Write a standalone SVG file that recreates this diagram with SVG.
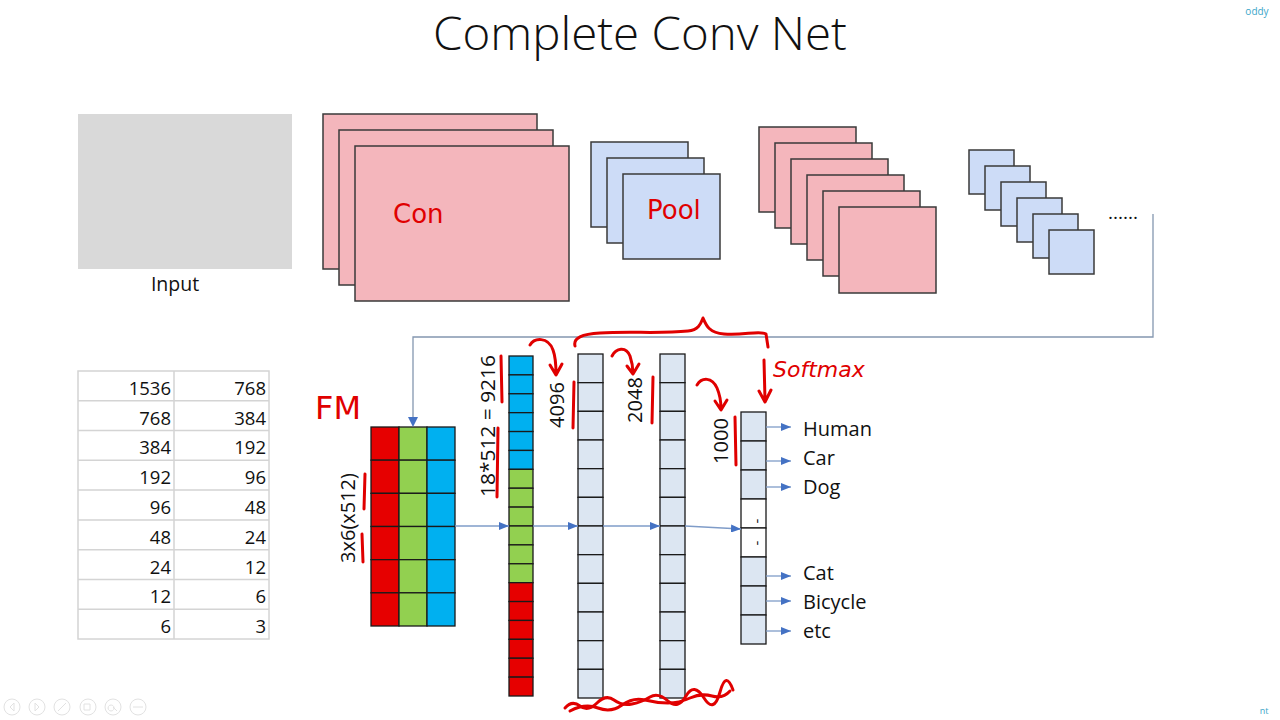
<svg xmlns="http://www.w3.org/2000/svg" width="1280" height="720" viewBox="0 0 1280 720">
<defs>
<marker id="ah" viewBox="0 0 10 8" refX="10" refY="4" markerWidth="10" markerHeight="8" markerUnits="userSpaceOnUse" orient="auto">
<path d="M0,0 L10,4 L0,8 Z" fill="#4472c4"/>
</marker>
<style>
.t{font-family:"Open Sans","Liberation Sans",sans-serif;fill:#111}
.pink{fill:#f4b6bc;stroke:#3a3a3a;stroke-width:1.5}
.blue{fill:#cddcf7;stroke:#3a3a3a;stroke-width:1.5}
.cell{stroke:#1a1a1a;stroke-width:1.3}
.lb{fill:#dce6f2}
.r{fill:#e60000}
.g{fill:#92d050}
.c{fill:#00b0f0}
.w{fill:#ffffff}
.conn{fill:none;stroke:#8497b0;stroke-width:1.3}
.arr{fill:none;stroke:#7f9cc8;stroke-width:1.3;marker-end:url(#ah)}
.grid{stroke:#d4d4d4;stroke-width:1.5;fill:none}
.num{font-family:"Open Sans","Liberation Sans",sans-serif;font-size:18.5px;fill:#111;text-anchor:end}
.ink{fill:none;stroke:#e00000;stroke-width:3;stroke-linecap:round;stroke-linejoin:round}
.hw{font-family:"DejaVu Sans",sans-serif;fill:#e00000}
</style>
</defs>
<rect width="1280" height="720" fill="#ffffff"/>

<text class="t" x="640" y="50" font-size="46" text-anchor="middle" textLength="414" lengthAdjust="spacingAndGlyphs" font-weight="300">Complete Conv Net</text>
<text x="1257" y="15" font-family="Open Sans,sans-serif" font-size="10" fill="#3aa6c9" text-anchor="middle">oddy</text>
<text x="1264" y="714" font-family="Open Sans,sans-serif" font-size="9" fill="#3aa6c9" text-anchor="middle">nt</text>

<g id="nav" fill="none" stroke="#e2e2e2" stroke-width="1">
<circle cx="12" cy="707" r="8"/><circle cx="37" cy="707" r="8"/><circle cx="62" cy="707" r="8"/><circle cx="88" cy="707" r="8"/><circle cx="113" cy="707" r="8"/><circle cx="138" cy="707" r="8"/>
<path d="M14,703 L10,707 L14,711 Z M35,703 L39,707 L35,711 Z M58,711 L66,703 M84,704 h6 v6 h-6 Z M111,705 a3,3 0 1 0 0.1,0 M113,707 l4,4 M133,707 h10"/>
</g>

<g id="input">
<rect x="78" y="114" width="214" height="155" fill="#d9d9d9"/>
<text class="t" x="175" y="291" font-size="19.5" text-anchor="middle">Input</text>
</g>

<g id="conv1">
<rect class="pink" x="323" y="114" width="214" height="155"/>
<rect class="pink" x="339" y="130" width="214" height="155"/>
<rect class="pink" x="355" y="146" width="214" height="155"/>
<text class="hw" x="393" y="223" font-size="26">Con</text>
</g>

<g id="pool1">
<rect class="blue" x="591" y="142" width="97" height="85"/>
<rect class="blue" x="607" y="158" width="97" height="85"/>
<rect class="blue" x="623" y="174" width="97" height="85"/>
<text class="hw" x="647" y="219" font-size="26">Pool</text>
</g>

<g id="conv2">
<rect class="pink" x="759" y="127" width="97" height="85"/>
<rect class="pink" x="775" y="143" width="97" height="85"/>
<rect class="pink" x="791" y="159" width="97" height="85"/>
<rect class="pink" x="807" y="175" width="97" height="85"/>
<rect class="pink" x="823" y="191" width="97" height="85"/>
<rect class="pink" x="839" y="207" width="97" height="86"/>
</g>

<g id="pool2">
<rect class="blue" x="969" y="150" width="45" height="44"/>
<rect class="blue" x="985" y="166" width="45" height="44"/>
<rect class="blue" x="1001" y="182" width="45" height="44"/>
<rect class="blue" x="1017" y="198" width="45" height="44"/>
<rect class="blue" x="1033" y="214" width="45" height="44"/>
<rect class="blue" x="1049" y="230" width="45" height="44"/>
<text class="t" x="1108" y="219" font-size="19">......</text>
</g>

<g id="table">
<rect class="grid" x="78" y="371" width="191" height="268"/>
<path class="grid" d="M174,371 V639 M78,400.8 H269 M78,430.6 H269 M78,460.3 H269 M78,490.1 H269 M78,519.9 H269 M78,549.7 H269 M78,579.4 H269 M78,609.2 H269"/>
<text class="num" x="171" y="395">1536</text><text class="num" x="266" y="395">768</text>
<text class="num" x="171" y="425">768</text><text class="num" x="266" y="425">384</text>
<text class="num" x="171" y="454">384</text><text class="num" x="266" y="454">192</text>
<text class="num" x="171" y="484">192</text><text class="num" x="266" y="484">96</text>
<text class="num" x="171" y="514">96</text><text class="num" x="266" y="514">48</text>
<text class="num" x="171" y="544">48</text><text class="num" x="266" y="544">24</text>
<text class="num" x="171" y="574">24</text><text class="num" x="266" y="574">12</text>
<text class="num" x="171" y="603">12</text><text class="num" x="266" y="603">6</text>
<text class="num" x="171" y="633">6</text><text class="num" x="266" y="633">3</text>
</g>

<g id="featuremap">
<g class="cell">
<rect class="r" x="371" y="427" width="28" height="33.17"/><rect class="g" x="399" y="427" width="28" height="33.17"/><rect class="c" x="427" y="427" width="28" height="33.17"/>
<rect class="r" x="371" y="460.17" width="28" height="33.17"/><rect class="g" x="399" y="460.17" width="28" height="33.17"/><rect class="c" x="427" y="460.17" width="28" height="33.17"/>
<rect class="r" x="371" y="493.33" width="28" height="33.17"/><rect class="g" x="399" y="493.33" width="28" height="33.17"/><rect class="c" x="427" y="493.33" width="28" height="33.17"/>
<rect class="r" x="371" y="526.5" width="28" height="33.17"/><rect class="g" x="399" y="526.5" width="28" height="33.17"/><rect class="c" x="427" y="526.5" width="28" height="33.17"/>
<rect class="r" x="371" y="559.67" width="28" height="33.17"/><rect class="g" x="399" y="559.67" width="28" height="33.17"/><rect class="c" x="427" y="559.67" width="28" height="33.17"/>
<rect class="r" x="371" y="592.83" width="28" height="33.17"/><rect class="g" x="399" y="592.83" width="28" height="33.17"/><rect class="c" x="427" y="592.83" width="28" height="33.17"/>
</g>
<text class="t" font-size="20" text-anchor="middle" transform="translate(355,518) rotate(-90)">3x6(x512)</text>
<text class="hw" x="315" y="419" font-size="32">FM</text>
</g>

<g id="flatten">
<g class="cell">
<rect class="c" x="509" y="356" width="24" height="18.89"/><rect class="c" x="509" y="374.89" width="24" height="18.89"/><rect class="c" x="509" y="393.78" width="24" height="18.89"/><rect class="c" x="509" y="412.67" width="24" height="18.89"/><rect class="c" x="509" y="431.56" width="24" height="18.89"/><rect class="c" x="509" y="450.44" width="24" height="18.89"/>
<rect class="g" x="509" y="469.33" width="24" height="18.89"/><rect class="g" x="509" y="488.22" width="24" height="18.89"/><rect class="g" x="509" y="507.11" width="24" height="18.89"/><rect class="g" x="509" y="526" width="24" height="18.89"/><rect class="g" x="509" y="544.89" width="24" height="18.89"/><rect class="g" x="509" y="563.78" width="24" height="18.89"/>
<rect class="r" x="509" y="582.67" width="24" height="18.89"/><rect class="r" x="509" y="601.56" width="24" height="18.89"/><rect class="r" x="509" y="620.44" width="24" height="18.89"/><rect class="r" x="509" y="639.33" width="24" height="18.89"/><rect class="r" x="509" y="658.22" width="24" height="18.89"/><rect class="r" x="509" y="677.11" width="24" height="18.89"/>
</g>
<text class="t" font-size="20" text-anchor="middle" transform="translate(495,426) rotate(-90)" textLength="142" lengthAdjust="spacingAndGlyphs">18*512 = 9216</text>
</g>

<g id="fc4096">
<g class="cell lb">
<rect x="578" y="354" width="25" height="28.67"/><rect x="578" y="382.67" width="25" height="28.67"/><rect x="578" y="411.33" width="25" height="28.67"/><rect x="578" y="440" width="25" height="28.67"/><rect x="578" y="468.67" width="25" height="28.67"/><rect x="578" y="497.33" width="25" height="28.67"/>
<rect x="578" y="526" width="25" height="28.67"/><rect x="578" y="554.67" width="25" height="28.67"/><rect x="578" y="583.33" width="25" height="28.67"/><rect x="578" y="612" width="25" height="28.67"/><rect x="578" y="640.67" width="25" height="28.67"/><rect x="578" y="669.33" width="25" height="28.67"/>
</g>
<text class="t" font-size="20" text-anchor="middle" transform="translate(564,405) rotate(-90)">4096</text>
</g>

<g id="fc2048">
<g class="cell lb">
<rect x="660" y="354" width="25" height="28.67"/><rect x="660" y="382.67" width="25" height="28.67"/><rect x="660" y="411.33" width="25" height="28.67"/><rect x="660" y="440" width="25" height="28.67"/><rect x="660" y="468.67" width="25" height="28.67"/><rect x="660" y="497.33" width="25" height="28.67"/>
<rect x="660" y="526" width="25" height="28.67"/><rect x="660" y="554.67" width="25" height="28.67"/><rect x="660" y="583.33" width="25" height="28.67"/><rect x="660" y="612" width="25" height="28.67"/><rect x="660" y="640.67" width="25" height="28.67"/><rect x="660" y="669.33" width="25" height="28.67"/>
</g>
<text class="t" font-size="20" text-anchor="middle" transform="translate(642,400) rotate(-90)">2048</text>
</g>

<g id="fc1000">
<g class="cell">
<rect class="lb" x="741" y="412" width="25" height="29"/><rect class="lb" x="741" y="441" width="25" height="29"/><rect class="lb" x="741" y="470" width="25" height="29"/>
<rect class="w" x="741" y="499" width="25" height="29"/><rect class="w" x="741" y="528" width="25" height="29"/>
<rect class="lb" x="741" y="557" width="25" height="29"/><rect class="lb" x="741" y="586" width="25" height="29"/><rect class="lb" x="741" y="615" width="25" height="29"/>
</g>
<text class="t" font-size="15" text-anchor="middle" transform="translate(762,521) rotate(-90)">-</text>
<text class="t" font-size="15" text-anchor="middle" transform="translate(762,543) rotate(-90)">-</text>
<text class="t" font-size="20" text-anchor="middle" transform="translate(728,441) rotate(-90)">1000</text>
</g>

<g id="classes">
<text class="t" x="803" y="436" font-size="20">Human</text>
<text class="t" x="803" y="465" font-size="20">Car</text>
<text class="t" x="803" y="494" font-size="20">Dog</text>
<text class="t" x="803" y="580" font-size="20">Cat</text>
<text class="t" x="803" y="609" font-size="20">Bicycle</text>
<text class="t" x="803" y="638" font-size="20">etc</text>
</g>

<g id="connectors">
<path class="conn" d="M1153,214 V337 H413 V418"/>
<path d="M408,417 L413,427 L418,417 Z" fill="#4472c4"/>
<line class="arr" x1="455" y1="526" x2="509" y2="526"/>
<line class="arr" x1="533" y1="526" x2="578" y2="526"/>
<line class="arr" x1="603" y1="526" x2="660" y2="526"/>
<line class="arr" x1="685" y1="526" x2="741" y2="529"/>
<line class="arr" x1="766" y1="427" x2="791" y2="427"/>
<line class="arr" x1="766" y1="461" x2="791" y2="461"/>
<line class="arr" x1="766" y1="487" x2="791" y2="487"/>
<line class="arr" x1="766" y1="576" x2="791" y2="576"/>
<line class="arr" x1="766" y1="601" x2="791" y2="601"/>
<line class="arr" x1="766" y1="631" x2="791" y2="631"/>
</g>

<g id="annotations">
<path class="ink" d="M575,346 C573,338 582,334 600,333 C630,331 660,334 688,331 C699,330 701,323 703,318 C706,325 709,333 724,334 C742,336 760,330 766,334 L768,347"/>
<path class="ink" d="M530,345 C534,338 548,336 553,350 C556,358 556,366 556,374 M550,365 L556,375 L562,364"/>
<path class="ink" d="M612,356 C616,348 626,346 630,356 C632,362 633,368 633,373 M627,366 L633,374 L639,364"/>
<path class="ink" d="M697,385 C702,377 712,377 717,388 C720,395 721,402 721,409 M715,401 L721,410 L727,400"/>
<path class="ink" d="M764,360 L765,400 M759,391 L765,402 L771,390"/>
<text class="hw" x="773" y="377" font-size="22" font-style="italic">Softmax</text>
<path class="ink" d="M365,474 L364,509 M362,534 L363,562 M501,356 L502,402 M498,428 L497,497 M574,382 L573,428 M653,377 L652,423 M735,417 L736,465"/>
<path class="ink" d="M565,708 Q572,700 580,706 T597,703 T614,700 T632,704 T650,697 T668,701 T686,696 T704,698 T720,692 T733,690"/>
<path class="ink" d="M570,711 Q585,703 598,708 T622,705 T645,700 T668,703 T690,698 T712,696 T730,691"/>
</g>
</svg>
